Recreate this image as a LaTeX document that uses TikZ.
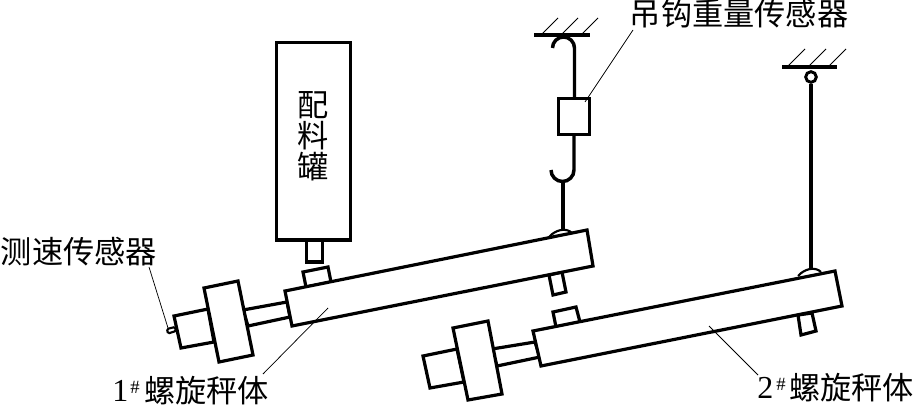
\documentclass[tikz,border=0pt]{standalone}
\usepackage{fontspec}
\setmainfont{Liberation Serif}
\newfontfamily\cjk{Noto Sans CJK SC}
\begin{document}
\begin{tikzpicture}[x=0.75pt,y=-0.75pt,
  part/.style={draw=black,line width=2.4pt,line join=miter,fill=white},
  rod/.style={draw=black,line width=2.6pt},
  thin/.style={draw=black,line width=0.55pt},
  hatch/.style={draw=black,line width=0.7pt},
  lab/.style={inner sep=0pt,font=\fontsize{23.4}{23.4}\selectfont\cjk},
  tag/.style={inner sep=0pt,anchor=west,font=\fontsize{24}{24}\selectfont},
  sup/.style={inner sep=0pt,font=\fontsize{14}{14}\selectfont}]
\useasboundingbox (0,0) rectangle (914,407);
% ceilings
\draw[rod] (534,35) -- (590,35);
\foreach \x in {541,561,581} \draw[hatch] (\x,35) -- ++(17,-17);
\draw[rod] (782,67) -- (837,67);
\foreach \x in {787,808,828} \draw[hatch] (\x,67) -- ++(18,-18);
% hook assembly
\draw[rod] (552.5,48) arc[start angle=180,end angle=360,radius=11] -- (574.5,98);
\draw[rod] (574,136) -- (574,170) arc[start angle=0,end angle=180,radius=11.5];
\draw[rod] (563,181.5) -- (563,231);
\node[part,minimum width=23.25pt,minimum height=27pt,inner sep=0pt,anchor=north west] (load) at (556.5,97) {};
% pivot 2
\node[draw=black,line width=2.2pt,circle,minimum size=8pt,inner sep=0pt] (pin) at (811,77) {};
\draw[rod] (pin.south) -- (811,270);
% tank
\node[part,minimum width=55.5pt,minimum height=148pt,inner sep=0pt,anchor=north west] (tank) at (275,41) {};
\node[part,minimum width=12.5pt,minimum height=16pt,inner sep=0pt,anchor=north west] (neck) at (304.5,239) {};
% scale 1
\draw[part] (303,272) -- (328,267) -- (331,282) -- (306,287) -- cycle;
\draw[part] (549,275) -- (553,295) -- (566,292) -- (562,272) -- cycle;
\draw[rod,line width=1.6pt] (549,237) .. controls (555,230) and (566,227) .. (572,233);
\draw[part] (243,310) -- (287,302) -- (290,317) -- (248,326) -- cycle;
\draw[part] (174,316) -- (208,309) -- (214,342) -- (181,348) -- cycle;
\draw[part,line width=1.6pt,rounded corners=1pt] (167,329) -- (175,327) -- (176,331) -- (168,333.5) -- cycle;
\draw[part] (204,288) -- (238,281) -- (253,355) -- (219,362) -- cycle;
\draw[part] (285,291) -- (587,230) -- (593,266) -- (292,326) -- cycle;
% scale 2
\draw[part] (553,312) -- (576,307) -- (580,322) -- (556,327) -- cycle;
\draw[part] (798,315) -- (801,335) -- (816,331) -- (812,313) -- cycle;
\draw[rod,line width=1.6pt] (798,276) .. controls (804,269) and (815,266) .. (821,272);
\draw[part] (492,349) -- (535,342) -- (540,357) -- (497,366) -- cycle;
\draw[part] (423,356) -- (457,349) -- (464,382) -- (430,388) -- cycle;
\draw[part] (453,328) -- (488,321) -- (502,394) -- (468,400) -- cycle;
\draw[part] (533,331) -- (835,271) -- (842,306) -- (541,366) -- cycle;
% labels
\node[lab] (c1) at (313,105) {配};
\node[lab] (c2) at (313,136) {料};
\node[lab] (c3) at (313,167) {罐};
\node[lab] (speed) at (79,252) {测速传感器};
\node[lab] (hook) at (739,14) {吊钩重量传感器};
\node[tag] (n1) at (112,391) {1};
\node[sup] (h1) at (135,387) {\#};
\node[lab,anchor=west] (s1) at (144,391) {螺旋秤体};
\node[tag] (n2) at (757,388) {2};
\node[sup] (h2) at (781,384) {\#};
\node[lab,anchor=west] (s2) at (789,388) {螺旋秤体};
% leaders
\coordinate (a1) at (149,267); \coordinate (a2) at (168,328);
\coordinate (b1) at (633,30); \coordinate (b2) at (585,102);
\coordinate (d1) at (328,308); \coordinate (d2) at (263,374);
\coordinate (e1) at (709,326); \coordinate (e2) at (758,375);
\draw[thin] (a1) -- (a2);
\draw[thin] (b1) -- (b2);
\draw[thin] (d1) -- (d2);
\draw[thin] (e1) -- (e2);
\end{tikzpicture}
\end{document}
